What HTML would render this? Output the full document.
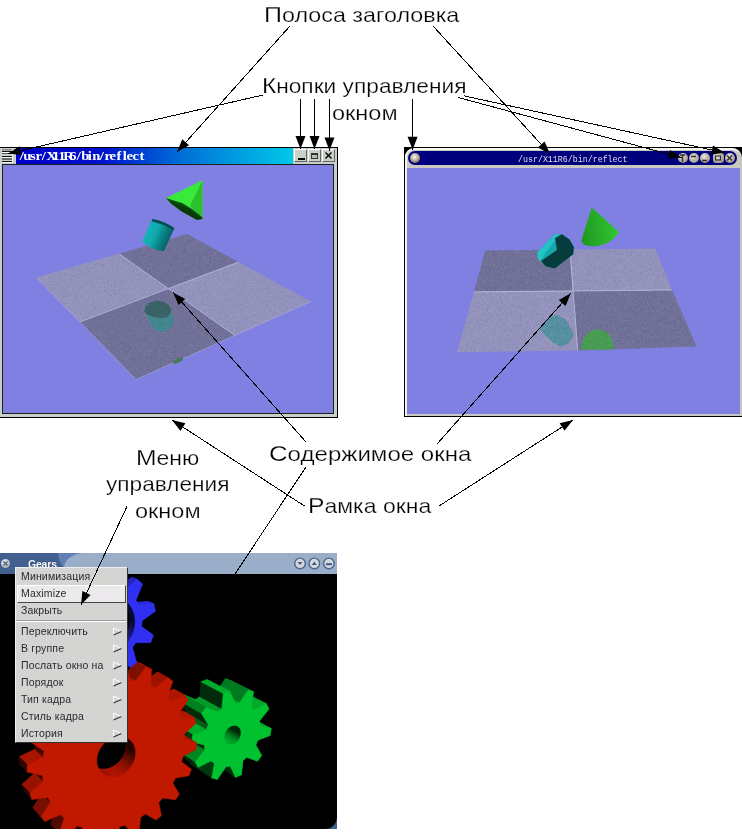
<!DOCTYPE html>
<html><head><meta charset="utf-8">
<style>
html,body{margin:0;padding:0;background:#fff}
body{width:742px;height:832px;overflow:hidden;position:relative}
.a{position:absolute}
.lbl{position:absolute;font-family:"Liberation Sans",sans-serif;font-size:21px;line-height:21px;color:#000;-webkit-text-stroke:0.25px #fff;white-space:nowrap;transform-origin:0 0}
.mi{position:absolute;left:6px;font-family:"Liberation Sans",sans-serif;font-size:10.5px;line-height:12px;color:#2a2a2a;white-space:nowrap;letter-spacing:0.15px}
.cap{font-size:22.5px}
.sub{position:absolute;left:98px;width:9px;height:9px}
</style></head><body>

<!-- ============ LEFT WINDOW ============ -->
<div class="a" style="left:0;top:147px;width:337px;height:269px;background:#c9d0c9;border:1px solid #000;border-left:none"></div>
<div class="a" style="left:16px;top:148px;width:277px;height:16px;background:linear-gradient(90deg,#0000c8 0%,#0010cc 30%,#0070d8 60%,#00c8e8 100%)"></div>
<div class="a" style="left:18.5px;top:148.5px;font-family:'Liberation Serif',serif;font-weight:bold;font-size:12px;line-height:14px;color:#fff;white-space:nowrap;letter-spacing:0"><span style="display:inline-block;width:5.74px;text-align:center;transform:scaleX(1.22)">/</span><span style="display:inline-block;width:5.74px;text-align:center;transform:scaleX(1.22)">u</span><span style="display:inline-block;width:5.74px;text-align:center;transform:scaleX(1.22)">s</span><span style="display:inline-block;width:5.74px;text-align:center;transform:scaleX(1.22)">r</span><span style="display:inline-block;width:5.74px;text-align:center;transform:scaleX(1.22)">/</span><span style="display:inline-block;width:5.74px;text-align:center;transform:scaleX(1.22)">X</span><span style="display:inline-block;width:5.74px;text-align:center;transform:scaleX(1.22)">1</span><span style="display:inline-block;width:5.74px;text-align:center;transform:scaleX(1.22)">1</span><span style="display:inline-block;width:5.74px;text-align:center;transform:scaleX(1.22)">R</span><span style="display:inline-block;width:5.74px;text-align:center;transform:scaleX(1.22)">6</span><span style="display:inline-block;width:5.74px;text-align:center;transform:scaleX(1.22)">/</span><span style="display:inline-block;width:5.74px;text-align:center;transform:scaleX(1.22)">b</span><span style="display:inline-block;width:5.74px;text-align:center;transform:scaleX(1.22)">i</span><span style="display:inline-block;width:5.74px;text-align:center;transform:scaleX(1.22)">n</span><span style="display:inline-block;width:5.74px;text-align:center;transform:scaleX(1.22)">/</span><span style="display:inline-block;width:5.74px;text-align:center;transform:scaleX(1.22)">r</span><span style="display:inline-block;width:5.74px;text-align:center;transform:scaleX(1.22)">e</span><span style="display:inline-block;width:5.74px;text-align:center;transform:scaleX(1.22)">f</span><span style="display:inline-block;width:5.74px;text-align:center;transform:scaleX(1.22)">l</span><span style="display:inline-block;width:5.74px;text-align:center;transform:scaleX(1.22)">e</span><span style="display:inline-block;width:5.74px;text-align:center;transform:scaleX(1.22)">c</span><span style="display:inline-block;width:5.74px;text-align:center;transform:scaleX(1.22)">t</span></div>
<!-- menu icon -->
<div class="a" style="left:0;top:148px;width:15px;height:16px;background:#c9d0c9"></div>
<div class="a" style="left:2px;top:149px;width:10px;height:1px;background:#8a8a8a"></div>
<div class="a" style="left:2px;top:150px;width:10px;height:1px;background:#aaa"></div>
<div class="a" style="left:2px;top:151px;width:10px;height:1px;background:#111"></div>
<div class="a" style="left:2px;top:152px;width:10px;height:1px;background:#fff"></div>
<div class="a" style="left:2px;top:153px;width:10px;height:1px;background:#555"></div>
<div class="a" style="left:2px;top:156px;width:10px;height:1px;background:#111"></div>
<div class="a" style="left:2px;top:157px;width:10px;height:1px;background:#f4f4f4"></div>
<div class="a" style="left:2px;top:158px;width:10px;height:2px;background:#6a6a6a"></div>
<div class="a" style="left:2px;top:161px;width:10px;height:1px;background:#111"></div>
<div class="a" style="left:2px;top:162px;width:11px;height:1px;background:#f4f4f4"></div>
<div class="a" style="left:12px;top:149px;width:1px;height:14px;background:#f4f4f4"></div>
<!-- buttons -->
<div class="a" style="left:294px;top:149px;width:11px;height:11px;background:#c9d0c9;border:1px solid;border-color:#fff #666 #666 #fff"></div>
<div class="a" style="left:298px;top:158px;width:6.5px;height:2px;background:#000"></div>
<div class="a" style="left:308px;top:149px;width:11px;height:11px;background:#c9d0c9;border:1px solid;border-color:#fff #666 #666 #fff"></div>
<div class="a" style="left:311px;top:153px;width:5px;height:3px;border:1px solid #333;border-top-width:2px;background:#b8bcb8"></div>
<div class="a" style="left:322px;top:149px;width:11px;height:11px;background:#c9d0c9;border:1px solid;border-color:#fff #666 #666 #fff"></div>
<svg class="a" style="left:322px;top:149px" width="13" height="13"><path d="M3.5 3.5 L9.5 9.5 M9.5 3.5 L3.5 9.5" stroke="#000" stroke-width="1.4"/></svg>
<!-- client -->
<div class="a" style="left:2px;top:164px;width:332px;height:250px;background:#1e201e"></div>
<div class="a" style="left:3px;top:165px;width:330px;height:248px;background:#8080e2;overflow:hidden">
<svg width="330" height="248" viewBox="3 165 330 248">
  <polygon points="36.3,277.5 118.9,253.7 168.3,288.6 79.8,322" fill="#9292bc"/>
  <polygon points="118.9,253.7 187.1,234.1 238.5,262.1 168.3,288.6" fill="#707098"/>
  <polygon points="168.3,288.6 238.5,262.1 310.9,301.6 234.8,335.5" fill="#9292bc"/>
  <polygon points="79.8,322 168.3,288.6 234.8,335.5 136,379.5" fill="#707098"/>
  <path d="M118.9 253.7 L234.8 335.5 M79.8 322 L238.5 262.1" stroke="#c0c0e4" stroke-width="1" opacity="0.75"/>
  <path d="M310.9 301.6 L136 379.5 L36.3 277.5" fill="none" stroke="#c0c0e4" stroke-width="0.8" opacity="0.5"/>
  <!-- reflection cylinder -->
  <path d="M144.4 311.6 C144 305 150 301 157.9 301 C164 301 169 304 171 309 L173.75 318.8 C175 326 168 331.8 160.8 331.8 C156 331.8 153 329 152 326.5 Z" fill="#3a8a8c" opacity="0.85"/>
  <path d="M144.4 311.6 C144 305 150 301 157.9 301 C164 301 169 304 171 309 C172 315 166 319 159 318 C152 317 146 315 144.4 311.6 Z" fill="#3a5e62" opacity="0.9"/>
  <ellipse cx="178" cy="360.7" rx="5.5" ry="2" transform="rotate(-25 178 360.7)" fill="#3c7a4a" opacity="0.9"/>
  <defs><filter id="nz" x="0" y="0" width="100%" height="100%" color-interpolation-filters="sRGB"><feTurbulence type="fractalNoise" baseFrequency="1.7" numOctaves="1" seed="7"/><feColorMatrix type="matrix" values="0.6 0.6 0.6 0 -0.4  0.6 0.6 0.6 0 -0.4  0.6 0.6 0.6 0 -0.4  0 0 0 0 1"/></filter>
  <clipPath id="fl1"><polygon points="36.3,277.5 187.1,234.1 310.9,301.6 136,379.5"/></clipPath></defs>
  <g clip-path="url(#fl1)" style="mix-blend-mode:overlay" opacity="0.18"><rect x="30" y="230" width="285" height="155" filter="url(#nz)"/></g>
  <!-- cylinder -->
  <defs><linearGradient id="cyl1" x1="145" y1="228" x2="171" y2="240" gradientUnits="userSpaceOnUse">
   <stop offset="0" stop-color="#12b6ba"/><stop offset="0.4" stop-color="#10aaae"/><stop offset="0.65" stop-color="#0b868a"/><stop offset="1" stop-color="#065a5e"/>
  </linearGradient></defs>
  <path d="M152.4 219.1 Q164 221 174.3 228.2 L164 251.3 Q151 250 142.1 241.6 Z" fill="url(#cyl1)"/>
  <path d="M152.4 219.1 Q164 221 174.3 228.2 L173.5 230 Q163 224 151.6 221.3 Z" fill="#074a4c"/>
  <!-- cone -->
  <path d="M202.4 180.3 L166.1 197.9 L171.2 204 L181 211 L196.7 219.7 L202.5 219.1 Z" fill="#38ea3a"/>
  <path d="M202.4 180.3 L190 206 L202.5 219.1 Z" fill="#2cc02e"/>
  <path d="M166.1 197.9 L172 200 L182 203 L192 209 L202 217 L202.5 219.1 L196.7 219.7 L181 211 L171.2 204 Z" fill="#0e4a10"/>
  <path d="M170 201 L181 211 L196.7 219.7 L202.5 219.1 L190 210 Z" fill="#0a3a0c"/>
</svg>
</div>

<!-- ============ RIGHT WINDOW ============ -->
<div class="a" style="left:404px;top:147px;width:338px;height:270px;background:#000"></div>
<div class="a" style="left:405px;top:148px;width:337px;height:268px;background:#c9c9c1;border-radius:9px 10px 0 0"></div>
<div class="a" style="left:405px;top:148px;width:337px;height:268px;border-radius:9px 10px 0 0;border-top:2px solid #f6f6f2;border-left:2px solid #f2f2ee;box-sizing:border-box"></div>
<div class="a" style="left:408px;top:151px;width:329px;height:14px;background:#00007c;border-radius:7px"></div>
<div class="a" style="left:518px;top:152px;font-family:'Liberation Mono',monospace;font-size:8.3px;line-height:12px;color:#e0e0e8;white-space:nowrap;transform:scaleY(1.2);transform-origin:0 0">/usr/X11R6/bin/reflect</div>
<div class="a" style="left:410px;top:153px;width:10px;height:10px;border-radius:50%;background:radial-gradient(circle at 45% 40%,#fff 0%,#d8d0c8 22%,#a08c74 62%,#5a4a38 100%)"></div>
<div class="a" style="left:677.5px;top:152.7px;width:10.5px;height:10.5px;border-radius:50%;background:radial-gradient(circle at 40% 35%,#e8e4dc 0%,#b0a898 60%,#706858 100%)"></div>
<div class="a" style="left:688.5px;top:152.7px;width:10.5px;height:10.5px;border-radius:50%;background:radial-gradient(circle at 40% 35%,#e8e4dc 0%,#b0a898 60%,#706858 100%)"></div>
<div class="a" style="left:699.5px;top:152.7px;width:10.5px;height:10.5px;border-radius:50%;background:radial-gradient(circle at 40% 35%,#e8e4dc 0%,#b0a898 60%,#706858 100%)"></div>
<div class="a" style="left:713px;top:152.7px;width:10.5px;height:10.5px;border-radius:3px;background:radial-gradient(circle at 40% 35%,#e8e4dc 0%,#b0a898 60%,#706858 100%)"></div>
<div class="a" style="left:724.5px;top:152.7px;width:10.5px;height:10.5px;border-radius:50%;background:radial-gradient(circle at 40% 35%,#e8e4dc 0%,#b0a898 60%,#706858 100%)"></div>
<svg class="a" style="left:676px;top:151px" width="62" height="14">
  <path d="M4 4 L9 4 M6.5 4 L6.5 11" stroke="#333" stroke-width="1.5"/>
  <path d="M15 5.5 L20 5.5" stroke="#333" stroke-width="1.5"/>
  <path d="M26 9.5 L31 9.5" stroke="#333" stroke-width="1.5"/>
  <rect x="39.5" y="5" width="5" height="4" fill="none" stroke="#333" stroke-width="1.2"/>
  <path d="M51 4.5 L56 9.5 M56 4.5 L51 9.5" stroke="#333" stroke-width="1.5"/>
</svg>
<div class="a" style="left:407px;top:168px;width:333px;height:246px;background:#8080e2;overflow:hidden">
<svg width="333" height="246" viewBox="407 168 333 246">
  <polygon points="485.3,250.4 570,249.6 572.8,291.1 474,291.9" fill="#707098"/>
  <polygon points="570,249.6 655.1,248.5 672,290 572.8,291.1" fill="#9292bc"/>
  <polygon points="474,291.9 572.8,291.1 577.7,350.4 457,352.3" fill="#9292bc"/>
  <polygon points="572.8,291.1 672,290 696.6,346.6 577.7,350.4" fill="#707098"/>
  <path d="M570 249.6 L577.7 350.4 M474 291.9 L672 290" stroke="#c4c4e4" stroke-width="1" opacity="0.8"/>
  <!-- reflections -->
  <path d="M540 329.6 L548 318 L557 314.5 L566 320 L574 335 L569 343 L560.8 346.6 L552 342 Z" fill="#3d8f94" opacity="0.7"/>
  <path d="M581.5 350 C581 336 590 329.6 597.5 329.6 C606 329.6 614 336 613.6 349.6 Z" fill="#3caa3c" opacity="0.75"/>
  <defs><filter id="nz2" x="0" y="0" width="100%" height="100%" color-interpolation-filters="sRGB"><feTurbulence type="fractalNoise" baseFrequency="1.7" numOctaves="1" seed="11"/><feColorMatrix type="matrix" values="0.6 0.6 0.6 0 -0.4  0.6 0.6 0.6 0 -0.4  0.6 0.6 0.6 0 -0.4  0 0 0 0 1"/></filter>
  <clipPath id="fl2"><polygon points="485.4,250.4 655.4,248.7 696.7,347.5 456.2,352.3"/></clipPath></defs>
  <g clip-path="url(#fl2)" style="mix-blend-mode:overlay" opacity="0.18"><rect x="450" y="245" width="250" height="110" filter="url(#nz2)"/></g>
  <!-- cylinder -->
  <path d="M537.6 252.1 L554.7 234.3 L562 234.3 L569.5 239.5 L573.9 246.9 L573.2 254.3 L554.7 268.4 L545.8 266.2 L537.6 257.3 Z" fill="#14a8aa"/>
  <path d="M537.6 252.1 L554.7 234.3 L560 234.3 L546 252 L540 262 L537.6 257.3 Z" fill="#22c4c6"/>
  <path d="M555 238 L562 234.3 L569.5 239.5 L573.9 246.9 L573.2 254.3 L554.7 268.4 L545.8 266.2 L541 261 L557 250 Z" fill="#063c3e"/>
  <!-- cone -->
  <defs><linearGradient id="cone2" x1="582" y1="230" x2="619" y2="225" gradientUnits="userSpaceOnUse">
   <stop offset="0" stop-color="#1f9a20"/><stop offset="0.35" stop-color="#26aa27"/><stop offset="0.7" stop-color="#2cba2d"/><stop offset="1" stop-color="#34c835"/>
  </linearGradient></defs>
  <path d="M591.7 207.6 L581.3 240.5 C582 245 588 246.6 594 246.3 C603 246 613 242 619.1 232.1 Z" fill="url(#cone2)"/>
</svg>
</div>

<!-- ============ GEARS WINDOW ============ -->
<div class="a" style="left:0;top:553px;width:337px;height:21px;background:#9aaec9"></div>
<div class="a" style="left:0;top:553px;width:70px;height:21px;background:#41608f;border-radius:0 0 30px 0"></div>
<div class="a" style="left:58px;top:553px;width:34px;height:21px;background:#6080b4;border-radius:0 0 0 40px;clip-path:polygon(0 0,100% 0,100% 100%,0 100%)"></div>
<div class="a" style="left:64px;top:553px;width:40px;height:30px;background:#9aaec9;border-radius:50% 0 0 0"></div>
<div class="a" style="left:1px;top:558.5px;width:9px;height:9px;border-radius:50%;background:radial-gradient(circle at 40% 35%,#eee 0%,#bbb 60%,#888 100%)"></div>
<svg class="a" style="left:1px;top:558.5px" width="9" height="9"><path d="M2.5 2.5 L6.5 6.5 M6.5 2.5 L2.5 6.5" stroke="#41608f" stroke-width="1.3"/></svg>
<div class="a" style="left:28px;top:557.5px;font-family:'Liberation Sans',sans-serif;font-weight:bold;font-size:10.5px;line-height:12px;color:#fff;letter-spacing:-0.2px;text-shadow:0 0 1px #203050">Gears</div>
<div class="a" style="left:320px;top:810px;width:17px;height:19px;background:#41608f"></div>
<div class="a" style="left:0;top:574px;width:337px;height:255px;background:#000;overflow:hidden;border-radius:0 0 12px 0"></div>
<svg class="a" style="left:0;top:0" width="742" height="832">
<defs><clipPath id="gc"><rect x="0" y="574" width="337" height="255"/></clipPath></defs>
<g clip-path="url(#gc)">
<path d="M271.3 728.6 L260.1 725.7 L237.3 713.3 L248.3 716.2 Z" fill="#00a92a" stroke="#00a92a" stroke-width="0.6"/>
<path d="M230.3 766.3 L235.5 777.5 L213.7 763.3 L208.5 752.3 Z" fill="#00290a" stroke="#00290a" stroke-width="0.6"/>
<path d="M266.3 703.6 L253.9 709.6 L231.1 697.7 L243.2 692.0 Z" fill="#00ab2b" stroke="#00ab2b" stroke-width="0.6"/>
<path d="M239.1 739.4 L239.6 738.5 L217.3 725.6 L216.9 726.4 Z" fill="#00701c" stroke="#00701c" stroke-width="0.6"/>
<path d="M238.5 740.2 L239.1 739.4 L216.9 726.4 L216.3 727.2 Z" fill="#007b1f" stroke="#007b1f" stroke-width="0.6"/>
<path d="M239.6 738.5 L240.0 737.6 L217.8 724.7 L217.3 725.6 Z" fill="#006419" stroke="#006419" stroke-width="0.6"/>
<path d="M237.9 741.0 L238.5 740.2 L216.3 727.2 L215.7 727.9 Z" fill="#008521" stroke="#008521" stroke-width="0.6"/>
<path d="M240.0 737.6 L240.4 736.7 L218.1 723.8 L217.8 724.7 Z" fill="#005816" stroke="#005816" stroke-width="0.6"/>
<path d="M237.3 741.7 L237.9 741.0 L215.7 727.9 L215.1 728.6 Z" fill="#008e24" stroke="#008e24" stroke-width="0.6"/>
<path d="M240.4 736.7 L240.7 735.8 L218.4 722.9 L218.1 723.8 Z" fill="#004b13" stroke="#004b13" stroke-width="0.6"/>
<path d="M236.6 742.4 L237.3 741.7 L215.1 728.6 L214.4 729.2 Z" fill="#009726" stroke="#009726" stroke-width="0.6"/>
<path d="M240.7 735.8 L240.9 734.8 L218.6 722.0 L218.4 722.9 Z" fill="#003e10" stroke="#003e10" stroke-width="0.6"/>
<path d="M235.8 743.0 L236.6 742.4 L214.4 729.2 L213.7 729.8 Z" fill="#009e27" stroke="#009e27" stroke-width="0.6"/>
<path d="M240.9 734.8 L241.0 733.9 L218.7 721.1 L218.6 722.0 Z" fill="#00310c" stroke="#00310c" stroke-width="0.6"/>
<path d="M235.0 743.5 L235.8 743.0 L213.7 729.8 L212.9 730.3 Z" fill="#00a429" stroke="#00a429" stroke-width="0.6"/>
<path d="M241.0 733.9 L241.1 733.0 L218.7 720.2 L218.7 721.1 Z" fill="#00290a" stroke="#00290a" stroke-width="0.6"/>
<path d="M234.2 743.9 L235.0 743.5 L212.9 730.3 L212.1 730.7 Z" fill="#00a92a" stroke="#00a92a" stroke-width="0.6"/>
<path d="M241.1 733.0 L241.0 732.1 L218.7 719.3 L218.7 720.2 Z" fill="#00290a" stroke="#00290a" stroke-width="0.6"/>
<path d="M233.4 744.3 L234.2 743.9 L212.1 730.7 L211.3 731.0 Z" fill="#00ad2b" stroke="#00ad2b" stroke-width="0.6"/>
<path d="M241.0 732.1 L240.9 731.2 L218.6 718.5 L218.7 719.3 Z" fill="#00290a" stroke="#00290a" stroke-width="0.6"/>
<path d="M232.6 744.5 L233.4 744.3 L211.3 731.0 L210.5 731.3 Z" fill="#00af2c" stroke="#00af2c" stroke-width="0.6"/>
<path d="M240.9 731.2 L240.7 730.3 L218.4 717.6 L218.6 718.5 Z" fill="#00290a" stroke="#00290a" stroke-width="0.6"/>
<path d="M231.7 744.7 L232.6 744.5 L210.5 731.3 L209.7 731.4 Z" fill="#00b02c" stroke="#00b02c" stroke-width="0.6"/>
<path d="M240.7 730.3 L240.4 729.5 L218.1 716.9 L218.4 717.6 Z" fill="#00290a" stroke="#00290a" stroke-width="0.6"/>
<path d="M230.9 744.8 L231.7 744.7 L209.7 731.4 L208.9 731.5 Z" fill="#00b02c" stroke="#00b02c" stroke-width="0.6"/>
<path d="M240.4 729.5 L240.1 728.8 L217.7 716.1 L218.1 716.9 Z" fill="#00290a" stroke="#00290a" stroke-width="0.6"/>
<path d="M230.1 744.8 L230.9 744.8 L208.9 731.5 L208.1 731.5 Z" fill="#00af2c" stroke="#00af2c" stroke-width="0.6"/>
<path d="M240.1 728.8 L239.7 728.1 L217.3 715.5 L217.7 716.1 Z" fill="#00290a" stroke="#00290a" stroke-width="0.6"/>
<path d="M229.3 744.7 L230.1 744.8 L208.1 731.5 L207.4 731.4 Z" fill="#00ac2b" stroke="#00ac2b" stroke-width="0.6"/>
<path d="M239.7 728.1 L239.2 727.5 L216.8 714.9 L217.3 715.5 Z" fill="#00290a" stroke="#00290a" stroke-width="0.6"/>
<path d="M228.6 744.5 L229.3 744.7 L207.4 731.4 L206.6 731.2 Z" fill="#00a82a" stroke="#00a82a" stroke-width="0.6"/>
<path d="M239.2 727.5 L238.6 726.9 L216.3 714.3 L216.8 714.9 Z" fill="#00290a" stroke="#00290a" stroke-width="0.6"/>
<path d="M214.3 763.5 L211.7 778.1 L190.4 763.6 L192.8 749.5 Z" fill="#00390e" stroke="#00390e" stroke-width="0.6"/>
<path d="M227.9 744.2 L228.6 744.5 L206.6 731.2 L205.9 730.9 Z" fill="#00a329" stroke="#00a329" stroke-width="0.6"/>
<path d="M238.6 726.9 L238.0 726.5 L215.7 713.9 L216.3 714.3 Z" fill="#00290a" stroke="#00290a" stroke-width="0.6"/>
<path d="M227.2 743.8 L227.9 744.2 L205.9 730.9 L205.3 730.6 Z" fill="#009c27" stroke="#009c27" stroke-width="0.6"/>
<path d="M238.0 726.5 L237.4 726.1 L215.0 713.5 L215.7 713.9 Z" fill="#00290a" stroke="#00290a" stroke-width="0.6"/>
<path d="M211.1 760.9 L214.3 763.5 L192.8 749.5 L189.7 747.0 Z" fill="#00290a" stroke="#00290a" stroke-width="0.6"/>
<path d="M253.7 691.9 L248.2 689.9 L225.3 678.6 L230.7 680.6 Z" fill="#00a62a" stroke="#00a62a" stroke-width="0.6"/>
<path d="M248.2 689.9 L239.4 702.9 L216.8 691.1 L225.3 678.6 Z" fill="#007b1f" stroke="#007b1f" stroke-width="0.6"/>
<path d="M239.4 702.9 L235.0 703.2 L212.5 691.3 L216.8 691.1 Z" fill="#00b02c" stroke="#00b02c" stroke-width="0.6"/>
<path d="M195.1 762.0 L198.1 767.4 L177.0 753.1 L174.0 747.8 Z" fill="#00290a" stroke="#00290a" stroke-width="0.6"/>
<path d="M204.9 749.6 L195.1 762.0 L174.0 747.8 L183.5 736.0 Z" fill="#008521" stroke="#008521" stroke-width="0.6"/>
<path d="M204.2 744.9 L204.9 749.6 L183.5 736.0 L182.8 731.4 Z" fill="#00290a" stroke="#00290a" stroke-width="0.6"/>
<path d="M221.8 708.7 L217.8 711.9 L195.8 699.6 L199.7 696.5 Z" fill="#009c27" stroke="#009c27" stroke-width="0.6"/>
<path d="M208.3 724.8 L206.2 729.8 L184.6 716.8 L186.6 712.0 Z" fill="#005c17" stroke="#005c17" stroke-width="0.6"/>
<path d="M223.3 693.5 L221.8 708.7 L199.7 696.5 L200.9 681.8 Z" fill="#002c0b" stroke="#002c0b" stroke-width="0.6"/>
<path d="M229.6 690.9 L223.3 693.5 L200.9 681.8 L207.1 679.4 Z" fill="#00ac2b" stroke="#00ac2b" stroke-width="0.6"/>
<path d="M206.2 729.8 L192.7 734.8 L171.4 721.5 L184.6 716.8 Z" fill="#00ae2b" stroke="#00ae2b" stroke-width="0.6"/>
<path d="M217.8 711.9 L206.0 707.3 L184.2 695.0 L195.8 699.6 Z" fill="#00a429" stroke="#00a429" stroke-width="0.6"/>
<path d="M201.4 713.5 L208.3 724.8 L186.6 712.0 L179.8 701.0 Z" fill="#00290a" stroke="#00290a" stroke-width="0.6"/>
<path d="M192.7 734.8 L191.7 742.1 L170.6 728.6 L171.4 721.5 Z" fill="#00320d" stroke="#00320d" stroke-width="0.6"/>
<path d="M206.0 707.3 L201.4 713.5 L179.8 701.0 L184.2 695.0 Z" fill="#008020" stroke="#008020" stroke-width="0.6"/>
<path d="M257.9 740.3 L270.2 735.5 L271.3 728.6 L260.1 725.7 L259.5 721.1 L269.0 709.1 L266.3 703.6 L253.9 709.6 L250.9 706.9 L253.7 691.9 L248.2 689.9 L239.4 702.9 L235.0 703.2 L229.6 690.9 L223.3 693.5 L221.8 708.7 L217.8 711.9 L206.0 707.3 L201.4 713.5 L208.3 724.8 L206.2 729.8 L192.7 734.8 L191.7 742.1 L204.2 744.9 L204.9 749.6 L195.1 762.0 L198.1 767.4 L211.1 760.9 L214.3 763.5 L211.7 778.1 L217.3 779.6 L226.0 766.7 L230.3 766.3 L235.5 777.5 L241.5 774.7 L243.0 760.6 L246.8 757.4 L257.5 761.3 L261.8 755.4 L255.9 745.0 Z M240.4 736.7 L240.7 735.8 L240.9 734.8 L241.0 733.9 L241.1 733.0 L241.0 732.1 L240.9 731.2 L240.7 730.3 L240.4 729.5 L240.1 728.8 L239.7 728.1 L239.2 727.5 L238.6 726.9 L238.0 726.5 L237.4 726.1 L236.7 725.8 L235.9 725.6 L235.1 725.5 L234.3 725.5 L233.5 725.5 L232.7 725.7 L231.8 725.9 L231.0 726.3 L230.2 726.7 L229.4 727.2 L228.6 727.8 L227.9 728.5 L227.2 729.2 L226.6 730.0 L226.0 730.8 L225.5 731.7 L225.1 732.6 L224.7 733.6 L224.5 734.5 L224.2 735.5 L224.1 736.4 L224.1 737.3 L224.1 738.3 L224.2 739.1 L224.4 740.0 L224.7 740.8 L225.1 741.5 L225.5 742.2 L226.0 742.8 L226.6 743.4 L227.2 743.8 L227.9 744.2 L228.6 744.5 L229.3 744.7 L230.1 744.8 L230.9 744.8 L231.7 744.7 L232.6 744.5 L233.4 744.3 L234.2 743.9 L235.0 743.5 L235.8 743.0 L236.6 742.4 L237.3 741.7 L237.9 741.0 L238.5 740.2 L239.1 739.4 L239.6 738.5 L240.0 737.6 Z" fill="#00c130" fill-rule="evenodd" stroke="#00c130" stroke-width="0.6"/>
<path d="M196.7 743.0 L184.4 739.6 L173.9 732.8 L186.0 736.2 Z" fill="#a71500" stroke="#a71500" stroke-width="0.6"/>
<path d="M125.2 825.0 L133.0 834.9 L123.5 826.2 L115.7 816.4 Z" fill="#290500" stroke="#290500" stroke-width="0.6"/>
<path d="M194.5 717.5 L180.8 718.5 L170.2 712.1 L183.7 711.1 Z" fill="#b01600" stroke="#b01600" stroke-width="0.6"/>
<path d="M103.6 829.6 L107.6 842.6 L98.5 833.6 L94.4 820.9 Z" fill="#290500" stroke="#290500" stroke-width="0.6"/>
<path d="M184.7 694.9 L170.9 700.6 L160.4 694.4 L174.0 688.9 Z" fill="#ac1500" stroke="#ac1500" stroke-width="0.6"/>
<path d="M131.6 765.7 L132.7 763.9 L122.9 756.5 L121.9 758.2 Z" fill="#720e00" stroke="#720e00" stroke-width="0.6"/>
<path d="M132.7 763.9 L133.6 762.1 L123.8 754.6 L122.9 756.5 Z" fill="#670d00" stroke="#670d00" stroke-width="0.6"/>
<path d="M130.4 767.5 L131.6 765.7 L121.9 758.2 L120.7 759.9 Z" fill="#7d1000" stroke="#7d1000" stroke-width="0.6"/>
<path d="M133.6 762.1 L134.4 760.1 L124.5 752.7 L123.8 754.6 Z" fill="#5a0b00" stroke="#5a0b00" stroke-width="0.6"/>
<path d="M129.0 769.1 L130.4 767.5 L120.7 759.9 L119.3 761.5 Z" fill="#871100" stroke="#871100" stroke-width="0.6"/>
<path d="M134.4 760.1 L135.0 758.2 L125.1 750.8 L124.5 752.7 Z" fill="#4e0a00" stroke="#4e0a00" stroke-width="0.6"/>
<path d="M127.6 770.6 L129.0 769.1 L119.3 761.5 L117.9 763.0 Z" fill="#901200" stroke="#901200" stroke-width="0.6"/>
<path d="M135.0 758.2 L135.4 756.2 L125.5 748.9 L125.1 750.8 Z" fill="#410800" stroke="#410800" stroke-width="0.6"/>
<path d="M126.0 772.0 L127.6 770.6 L117.9 763.0 L116.3 764.3 Z" fill="#981300" stroke="#981300" stroke-width="0.6"/>
<path d="M135.4 756.2 L135.6 754.2 L125.7 746.9 L125.5 748.9 Z" fill="#340600" stroke="#340600" stroke-width="0.6"/>
<path d="M124.3 773.2 L126.0 772.0 L116.3 764.3 L114.7 765.5 Z" fill="#9f1400" stroke="#9f1400" stroke-width="0.6"/>
<path d="M135.6 754.2 L135.7 752.3 L125.8 745.0 L125.7 746.9 Z" fill="#290500" stroke="#290500" stroke-width="0.6"/>
<path d="M122.6 774.3 L124.3 773.2 L114.7 765.5 L113.0 766.6 Z" fill="#a51500" stroke="#a51500" stroke-width="0.6"/>
<path d="M135.7 752.3 L135.5 750.4 L125.6 743.1 L125.8 745.0 Z" fill="#290500" stroke="#290500" stroke-width="0.6"/>
<path d="M120.8 775.2 L122.6 774.3 L113.0 766.6 L111.2 767.4 Z" fill="#aa1500" stroke="#aa1500" stroke-width="0.6"/>
<path d="M135.5 750.4 L135.2 748.5 L125.3 741.3 L125.6 743.1 Z" fill="#290500" stroke="#290500" stroke-width="0.6"/>
<path d="M118.9 775.9 L120.8 775.2 L111.2 767.4 L109.3 768.2 Z" fill="#ad1600" stroke="#ad1600" stroke-width="0.6"/>
<path d="M135.2 748.5 L134.7 746.7 L124.8 739.5 L125.3 741.3 Z" fill="#290500" stroke="#290500" stroke-width="0.6"/>
<path d="M117.0 776.5 L118.9 775.9 L109.3 768.2 L107.5 768.7 Z" fill="#af1600" stroke="#af1600" stroke-width="0.6"/>
<path d="M82.6 827.4 L82.2 842.2 L73.4 833.1 L73.7 818.5 Z" fill="#290500" stroke="#290500" stroke-width="0.6"/>
<path d="M134.7 746.7 L134.1 745.0 L124.2 737.9 L124.8 739.5 Z" fill="#290500" stroke="#290500" stroke-width="0.6"/>
<path d="M115.1 776.8 L117.0 776.5 L107.5 768.7 L105.6 769.0 Z" fill="#b01600" stroke="#b01600" stroke-width="0.6"/>
<path d="M134.1 745.0 L133.2 743.4 L123.3 736.3 L124.2 737.9 Z" fill="#290500" stroke="#290500" stroke-width="0.6"/>
<path d="M113.2 777.0 L115.1 776.8 L105.6 769.0 L103.8 769.2 Z" fill="#b01600" stroke="#b01600" stroke-width="0.6"/>
<path d="M133.2 743.4 L132.2 742.0 L122.3 734.9 L123.3 736.3 Z" fill="#290500" stroke="#290500" stroke-width="0.6"/>
<path d="M111.4 777.0 L113.2 777.0 L103.8 769.2 L101.9 769.2 Z" fill="#ae1600" stroke="#ae1600" stroke-width="0.6"/>
<path d="M132.2 742.0 L131.1 740.7 L121.2 733.6 L122.3 734.9 Z" fill="#290500" stroke="#290500" stroke-width="0.6"/>
<path d="M109.6 776.8 L111.4 777.0 L101.9 769.2 L100.1 769.0 Z" fill="#ab1500" stroke="#ab1500" stroke-width="0.6"/>
<path d="M131.1 740.7 L129.8 739.5 L119.9 732.4 L121.2 733.6 Z" fill="#290500" stroke="#290500" stroke-width="0.6"/>
<path d="M107.8 776.4 L109.6 776.8 L100.1 769.0 L98.4 768.6 Z" fill="#a71500" stroke="#a71500" stroke-width="0.6"/>
<path d="M106.1 775.8 L107.8 776.4 L98.4 768.6 L96.8 768.0 Z" fill="#a11400" stroke="#a11400" stroke-width="0.6"/>
<path d="M168.0 677.6 L155.4 687.6 L144.9 681.5 L157.4 671.8 Z" fill="#9b1300" stroke="#9b1300" stroke-width="0.6"/>
<path d="M104.6 775.0 L106.1 775.8 L96.8 768.0 L95.2 767.2 Z" fill="#9b1300" stroke="#9b1300" stroke-width="0.6"/>
<path d="M103.1 774.0 L104.6 775.0 L95.2 767.2 L93.7 766.2 Z" fill="#931200" stroke="#931200" stroke-width="0.6"/>
<path d="M155.4 687.6 L150.7 685.3 L140.4 679.3 L144.9 681.5 Z" fill="#9f1400" stroke="#9f1400" stroke-width="0.6"/>
<path d="M64.2 818.0 L59.2 833.4 L50.7 824.4 L55.6 809.2 Z" fill="#530a00" stroke="#530a00" stroke-width="0.6"/>
<path d="M151.5 669.2 L145.4 667.4 L135.1 661.7 L141.1 663.5 Z" fill="#a81500" stroke="#a81500" stroke-width="0.6"/>
<path d="M145.4 667.4 L135.4 681.0 L125.2 675.0 L135.1 661.7 Z" fill="#7f1000" stroke="#7f1000" stroke-width="0.6"/>
<path d="M135.4 681.0 L129.9 680.5 L119.8 674.5 L125.2 675.0 Z" fill="#ae1600" stroke="#ae1600" stroke-width="0.6"/>
<path d="M40.9 816.6 L44.9 821.5 L36.6 812.5 L32.7 807.7 Z" fill="#290500" stroke="#290500" stroke-width="0.6"/>
<path d="M50.5 802.2 L40.9 816.6 L32.7 807.7 L42.0 793.6 Z" fill="#790f00" stroke="#790f00" stroke-width="0.6"/>
<path d="M48.0 797.4 L50.5 802.2 L42.0 793.6 L39.5 788.8 Z" fill="#290500" stroke="#290500" stroke-width="0.6"/>
<path d="M125.8 665.4 L119.0 665.9 L109.0 660.1 L115.7 659.6 Z" fill="#b01600" stroke="#b01600" stroke-width="0.6"/>
<path d="M119.0 665.9 L112.8 681.9 L103.0 675.8 L109.0 660.1 Z" fill="#5a0b00" stroke="#5a0b00" stroke-width="0.6"/>
<path d="M112.8 681.9 L107.1 683.3 L97.3 677.2 L103.0 675.8 Z" fill="#af1600" stroke="#af1600" stroke-width="0.6"/>
<path d="M42.3 775.4 L43.1 781.3 L34.6 773.0 L33.9 767.3 Z" fill="#290500" stroke="#290500" stroke-width="0.6"/>
<path d="M43.1 781.3 L29.8 792.9 L21.6 784.4 L34.6 773.0 Z" fill="#971300" stroke="#971300" stroke-width="0.6"/>
<path d="M29.8 792.9 L31.8 799.4 L23.6 790.7 L21.6 784.4 Z" fill="#290500" stroke="#290500" stroke-width="0.6"/>
<path d="M90.0 690.5 L84.6 693.8 L75.2 687.3 L80.5 684.1 Z" fill="#a31400" stroke="#a31400" stroke-width="0.6"/>
<path d="M91.4 673.7 L90.0 690.5 L80.5 684.1 L81.8 667.6 Z" fill="#310600" stroke="#310600" stroke-width="0.6"/>
<path d="M98.3 670.9 L91.4 673.7 L81.8 667.6 L88.6 664.9 Z" fill="#ab1500" stroke="#ab1500" stroke-width="0.6"/>
<path d="M44.2 751.1 L43.0 757.3 L34.5 749.4 L35.7 743.4 Z" fill="#420800" stroke="#420800" stroke-width="0.6"/>
<path d="M69.5 706.1 L65.0 710.9 L56.0 704.0 L60.4 699.3 Z" fill="#8c1100" stroke="#8c1100" stroke-width="0.6"/>
<path d="M84.6 693.8 L71.7 685.4 L62.5 679.1 L75.2 687.3 Z" fill="#961300" stroke="#961300" stroke-width="0.6"/>
<path d="M43.0 757.3 L27.2 764.8 L19.0 756.7 L34.5 749.4 Z" fill="#aa1500" stroke="#aa1500" stroke-width="0.6"/>
<path d="M53.6 727.1 L50.6 732.9 L41.9 725.6 L44.8 719.9 Z" fill="#6a0d00" stroke="#6a0d00" stroke-width="0.6"/>
<path d="M27.2 764.8 L27.0 772.1 L18.8 763.9 L19.0 756.7 Z" fill="#2d0600" stroke="#2d0600" stroke-width="0.6"/>
<path d="M65.7 690.3 L69.5 706.1 L60.4 699.3 L56.6 683.9 Z" fill="#290500" stroke="#290500" stroke-width="0.6"/>
<path d="M65.0 710.9 L49.4 707.7 L40.6 700.8 L56.0 704.0 Z" fill="#aa1500" stroke="#aa1500" stroke-width="0.6"/>
<path d="M50.6 732.9 L34.0 735.2 L25.6 727.8 L41.9 725.6 Z" fill="#b01600" stroke="#b01600" stroke-width="0.6"/>
<path d="M71.7 685.4 L65.7 690.3 L56.6 683.9 L62.5 679.1 Z" fill="#991300" stroke="#991300" stroke-width="0.6"/>
<path d="M44.8 714.2 L53.6 727.1 L44.8 719.9 L36.2 707.2 Z" fill="#290500" stroke="#290500" stroke-width="0.6"/>
<path d="M34.0 735.2 L31.4 742.6 L23.1 734.9 L25.6 727.8 Z" fill="#570b00" stroke="#570b00" stroke-width="0.6"/>
<path d="M49.4 707.7 L44.8 714.2 L36.2 707.2 L40.6 700.8 Z" fill="#7c0f00" stroke="#7c0f00" stroke-width="0.6"/>
<path d="M184.1 734.1 L195.7 723.6 L194.5 717.5 L180.8 718.5 L178.9 713.7 L187.9 700.2 L184.7 694.9 L170.9 700.6 L167.5 696.8 L172.8 681.3 L168.0 677.6 L155.4 687.6 L150.7 685.3 L151.5 669.2 L145.4 667.4 L135.4 681.0 L129.9 680.5 L125.8 665.4 L119.0 665.9 L112.8 681.9 L107.1 683.3 L98.3 670.9 L91.4 673.7 L90.0 690.5 L84.6 693.8 L71.7 685.4 L65.7 690.3 L69.5 706.1 L65.0 710.9 L49.4 707.7 L44.8 714.2 L53.6 727.1 L50.6 732.9 L34.0 735.2 L31.4 742.6 L44.2 751.1 L43.0 757.3 L27.2 764.8 L27.0 772.1 L42.3 775.4 L43.1 781.3 L29.8 792.9 L31.8 799.4 L48.0 797.4 L50.5 802.2 L40.9 816.6 L44.9 821.5 L60.3 814.6 L64.2 818.0 L59.2 833.4 L64.6 836.4 L77.7 825.7 L82.6 827.4 L82.2 842.2 L88.4 843.1 L98.2 829.7 L103.6 829.6 L107.6 842.6 L114.1 841.4 L119.8 826.8 L125.2 825.0 L133.0 834.9 L139.1 831.8 L140.6 817.3 L145.4 814.0 L156.2 820.1 L161.4 815.5 L158.7 802.4 L162.7 797.9 L175.4 799.8 L179.3 794.1 L172.8 783.3 L175.5 778.1 L189.0 775.7 L191.4 769.2 L181.6 761.8 L182.9 756.2 L196.0 749.6 L196.7 743.0 L184.4 739.6 Z M135.5 750.4 L135.2 748.5 L134.7 746.7 L134.1 745.0 L133.2 743.4 L132.2 742.0 L131.1 740.7 L129.8 739.5 L128.3 738.5 L126.8 737.7 L125.1 737.0 L123.4 736.5 L121.6 736.3 L119.7 736.2 L117.8 736.3 L115.9 736.6 L113.9 737.2 L112.0 737.9 L110.2 738.8 L108.4 739.8 L106.6 741.1 L105.0 742.5 L103.5 744.0 L102.1 745.7 L100.8 747.5 L99.7 749.3 L98.8 751.2 L98.0 753.2 L97.4 755.3 L97.0 757.3 L96.8 759.3 L96.8 761.3 L96.9 763.3 L97.3 765.1 L97.8 766.9 L98.6 768.6 L99.5 770.2 L100.5 771.6 L101.7 772.9 L103.1 774.0 L104.6 775.0 L106.1 775.8 L107.8 776.4 L109.6 776.8 L111.4 777.0 L113.2 777.0 L115.1 776.8 L117.0 776.5 L118.9 775.9 L120.8 775.2 L122.6 774.3 L124.3 773.2 L126.0 772.0 L127.6 770.6 L129.0 769.1 L130.4 767.5 L131.6 765.7 L132.7 763.9 L133.6 762.1 L134.4 760.1 L135.0 758.2 L135.4 756.2 L135.6 754.2 L135.7 752.3 Z" fill="#c11800" fill-rule="evenodd" stroke="#c11800" stroke-width="0.6"/>
<path d="M119.5 657.9 L130.5 667.5 L125.4 664.6 L114.4 655.1 Z" fill="#0a0a33" stroke="#0a0a33" stroke-width="0.6"/>
<path d="M130.2 639.0 L131.6 636.5 L126.5 633.9 L125.1 636.4 Z" fill="#1c1c8a" stroke="#1c1c8a" stroke-width="0.6"/>
<path d="M128.6 641.4 L130.2 639.0 L125.1 636.4 L123.5 638.7 Z" fill="#1e1e97" stroke="#1e1e97" stroke-width="0.6"/>
<path d="M131.6 636.5 L132.8 633.9 L127.6 631.3 L126.5 633.9 Z" fill="#19197b" stroke="#19197b" stroke-width="0.6"/>
<path d="M126.9 643.6 L128.6 641.4 L123.5 638.7 L121.8 640.9 Z" fill="#2121a4" stroke="#2121a4" stroke-width="0.6"/>
<path d="M132.8 633.9 L133.8 631.2 L128.6 628.7 L127.6 631.3 Z" fill="#16166c" stroke="#16166c" stroke-width="0.6"/>
<path d="M124.9 645.6 L126.9 643.6 L121.8 640.9 L119.8 643.0 Z" fill="#2323b0" stroke="#2323b0" stroke-width="0.6"/>
<path d="M133.8 631.2 L134.5 628.4 L129.3 625.9 L128.6 628.7 Z" fill="#12125c" stroke="#12125c" stroke-width="0.6"/>
<path d="M122.8 647.5 L124.9 645.6 L119.8 643.0 L117.7 644.8 Z" fill="#2525bb" stroke="#2525bb" stroke-width="0.6"/>
<path d="M134.5 628.4 L135.0 625.6 L129.7 623.2 L129.3 625.9 Z" fill="#0f0f4b" stroke="#0f0f4b" stroke-width="0.6"/>
<path d="M120.6 649.1 L122.8 647.5 L117.7 644.8 L115.5 646.4 Z" fill="#2727c4" stroke="#2727c4" stroke-width="0.6"/>
<path d="M135.0 625.6 L135.2 622.8 L130.0 620.4 L129.7 623.2 Z" fill="#0c0c3b" stroke="#0c0c3b" stroke-width="0.6"/>
<path d="M118.2 650.6 L120.6 649.1 L115.5 646.4 L113.2 647.8 Z" fill="#2929cc" stroke="#2929cc" stroke-width="0.6"/>
<path d="M153.8 603.6 L138.6 604.8 L133.4 602.5 L148.4 601.3 Z" fill="#2c2cdc" stroke="#2c2cdc" stroke-width="0.6"/>
<path d="M135.2 622.8 L135.2 620.0 L129.9 617.6 L130.0 620.4 Z" fill="#0a0a33" stroke="#0a0a33" stroke-width="0.6"/>
<path d="M115.8 651.7 L118.2 650.6 L113.2 647.8 L110.7 649.0 Z" fill="#2a2ad2" stroke="#2a2ad2" stroke-width="0.6"/>
<path d="M135.2 620.0 L134.9 617.3 L129.7 614.9 L129.9 617.6 Z" fill="#0a0a33" stroke="#0a0a33" stroke-width="0.6"/>
<path d="M113.2 652.7 L115.8 651.7 L110.7 649.0 L108.2 649.9 Z" fill="#2b2bd7" stroke="#2b2bd7" stroke-width="0.6"/>
<path d="M134.9 617.3 L134.4 614.6 L129.1 612.2 L129.7 614.9 Z" fill="#0a0a33" stroke="#0a0a33" stroke-width="0.6"/>
<path d="M110.7 653.3 L113.2 652.7 L108.2 649.9 L105.7 650.5 Z" fill="#2c2cda" stroke="#2c2cda" stroke-width="0.6"/>
<path d="M134.4 614.6 L133.6 612.0 L128.4 609.6 L129.1 612.2 Z" fill="#0a0a33" stroke="#0a0a33" stroke-width="0.6"/>
<path d="M98.8 660.9 L101.9 676.8 L97.0 673.7 L93.9 658.1 Z" fill="#0a0a33" stroke="#0a0a33" stroke-width="0.6"/>
<path d="M108.1 653.7 L110.7 653.3 L105.7 650.5 L103.1 650.9 Z" fill="#2c2cdc" stroke="#2c2cdc" stroke-width="0.6"/>
<path d="M133.6 612.0 L132.6 609.5 L127.4 607.2 L128.4 609.6 Z" fill="#0a0a33" stroke="#0a0a33" stroke-width="0.6"/>
<path d="M105.5 653.8 L108.1 653.7 L103.1 650.9 L100.6 651.0 Z" fill="#2c2cdc" stroke="#2c2cdc" stroke-width="0.6"/>
<path d="M132.6 609.5 L131.4 607.2 L126.2 604.8 L127.4 607.2 Z" fill="#0a0a33" stroke="#0a0a33" stroke-width="0.6"/>
<path d="M102.9 653.7 L105.5 653.8 L100.6 651.0 L98.0 650.9 Z" fill="#2c2cdb" stroke="#2c2cdb" stroke-width="0.6"/>
<path d="M131.4 607.2 L129.9 605.0 L124.7 602.7 L126.2 604.8 Z" fill="#0a0a33" stroke="#0a0a33" stroke-width="0.6"/>
<path d="M100.4 653.3 L102.9 653.7 L98.0 650.9 L95.5 650.4 Z" fill="#2b2bd7" stroke="#2b2bd7" stroke-width="0.6"/>
<path d="M129.9 605.0 L128.3 603.0 L123.1 600.7 L124.7 602.7 Z" fill="#0a0a33" stroke="#0a0a33" stroke-width="0.6"/>
<path d="M97.9 652.5 L100.4 653.3 L95.5 650.4 L93.1 649.7 Z" fill="#2a2ad3" stroke="#2a2ad3" stroke-width="0.6"/>
<path d="M128.3 603.0 L126.4 601.2 L121.2 598.9 L123.1 600.7 Z" fill="#0a0a33" stroke="#0a0a33" stroke-width="0.6"/>
<path d="M95.6 651.6 L97.9 652.5 L93.1 649.7 L90.7 648.8 Z" fill="#2929cc" stroke="#2929cc" stroke-width="0.6"/>
<path d="M126.4 601.2 L124.4 599.6 L119.2 597.4 L121.2 598.9 Z" fill="#0a0a33" stroke="#0a0a33" stroke-width="0.6"/>
<path d="M93.4 650.3 L95.6 651.6 L90.7 648.8 L88.5 647.6 Z" fill="#2727c5" stroke="#2727c5" stroke-width="0.6"/>
<path d="M124.4 599.6 L122.2 598.3 L117.1 596.0 L119.2 597.4 Z" fill="#0a0a33" stroke="#0a0a33" stroke-width="0.6"/>
<path d="M137.0 579.1 L124.1 590.2 L118.9 588.0 L131.6 577.1 Z" fill="#2525bb" stroke="#2525bb" stroke-width="0.6"/>
<path d="M122.2 598.3 L119.9 597.2 L114.8 595.0 L117.1 596.0 Z" fill="#0a0a33" stroke="#0a0a33" stroke-width="0.6"/>
<path d="M74.8 666.5 L80.8 670.9 L76.1 667.8 L70.1 663.5 Z" fill="#0a0a33" stroke="#0a0a33" stroke-width="0.6"/>
<path d="M124.1 590.2 L119.2 588.4 L114.0 586.3 L118.9 588.0 Z" fill="#2a2ad2" stroke="#2a2ad2" stroke-width="0.6"/>
<path d="M81.4 650.2 L74.8 666.5 L70.1 663.5 L76.6 647.4 Z" fill="#171775" stroke="#171775" stroke-width="0.6"/>
<path d="M78.4 645.7 L81.4 650.2 L76.6 647.4 L73.6 642.9 Z" fill="#0a0a33" stroke="#0a0a33" stroke-width="0.6"/>
<path d="M116.1 571.5 L108.4 571.5 L103.3 569.5 L111.0 569.5 Z" fill="#2c2cdc" stroke="#2c2cdc" stroke-width="0.6"/>
<path d="M103.2 588.7 L97.9 590.6 L92.9 588.4 L98.1 586.5 Z" fill="#2b2bd6" stroke="#2b2bd6" stroke-width="0.6"/>
<path d="M108.4 571.5 L103.2 588.7 L98.1 586.5 L103.3 569.5 Z" fill="#141465" stroke="#141465" stroke-width="0.6"/>
<path d="M74.5 623.3 L74.2 629.3 L69.4 626.6 L69.7 620.8 Z" fill="#0b0b39" stroke="#0b0b39" stroke-width="0.6"/>
<path d="M74.2 629.3 L59.9 639.5 L55.3 636.7 L69.4 626.6 Z" fill="#2727c4" stroke="#2727c4" stroke-width="0.6"/>
<path d="M59.9 639.5 L62.0 647.3 L57.4 644.5 L55.3 636.7 Z" fill="#0a0a33" stroke="#0a0a33" stroke-width="0.6"/>
<path d="M84.0 601.4 L80.5 606.3 L75.7 603.9 L79.1 599.0 Z" fill="#1f1f9b" stroke="#1f1f9b" stroke-width="0.6"/>
<path d="M61.1 614.1 L74.5 623.3 L69.7 620.8 L56.4 611.6 Z" fill="#0a0a33" stroke="#0a0a33" stroke-width="0.6"/>
<path d="M79.1 584.7 L84.0 601.4 L79.1 599.0 L74.2 582.6 Z" fill="#0a0a33" stroke="#0a0a33" stroke-width="0.6"/>
<path d="M80.5 606.3 L63.9 605.8 L59.2 603.4 L75.7 603.9 Z" fill="#2c2cdc" stroke="#2c2cdc" stroke-width="0.6"/>
<path d="M85.8 579.6 L79.1 584.7 L74.2 582.6 L80.9 577.5 Z" fill="#2626c0" stroke="#2626c0" stroke-width="0.6"/>
<path d="M63.9 605.8 L61.1 614.1 L56.4 611.6 L59.2 603.4 Z" fill="#16166d" stroke="#16166d" stroke-width="0.6"/>
<path d="M135.8 642.7 L150.7 642.7 L153.4 635.1 L141.7 626.5 L142.1 620.8 L155.4 611.2 L153.8 603.6 L138.6 604.8 L136.0 600.2 L142.6 584.0 L137.0 579.1 L124.1 590.2 L119.2 588.4 L116.1 571.5 L108.4 571.5 L103.2 588.7 L97.9 590.6 L85.8 579.6 L79.1 584.7 L84.0 601.4 L80.5 606.3 L63.9 605.8 L61.1 614.1 L74.5 623.3 L74.2 629.3 L59.9 639.5 L62.0 647.3 L78.4 645.7 L81.4 650.2 L74.8 666.5 L80.8 670.9 L93.8 659.5 L98.8 660.9 L101.9 676.8 L109.3 676.2 L114.4 660.0 L119.5 657.9 L130.5 667.5 L136.7 662.5 L132.5 647.4 Z M130.2 639.0 L131.6 636.5 L132.8 633.9 L133.8 631.2 L134.5 628.4 L135.0 625.6 L135.2 622.8 L135.2 620.0 L134.9 617.3 L134.4 614.6 L133.6 612.0 L132.6 609.5 L131.4 607.2 L129.9 605.0 L128.3 603.0 L126.4 601.2 L124.4 599.6 L122.2 598.3 L119.9 597.2 L117.5 596.4 L114.9 595.8 L112.4 595.6 L109.7 595.6 L107.1 595.9 L104.4 596.5 L101.8 597.4 L99.2 598.5 L96.8 599.9 L94.4 601.6 L92.2 603.5 L90.2 605.6 L88.3 607.9 L86.6 610.3 L85.2 612.9 L84.0 615.7 L83.0 618.5 L82.3 621.4 L81.9 624.3 L81.7 627.2 L81.8 630.1 L82.1 632.9 L82.7 635.6 L83.6 638.3 L84.7 640.7 L86.0 643.1 L87.6 645.2 L89.3 647.2 L91.3 648.9 L93.4 650.3 L95.6 651.6 L97.9 652.5 L100.4 653.3 L102.9 653.7 L105.5 653.8 L108.1 653.7 L110.7 653.3 L113.2 652.7 L115.8 651.7 L118.2 650.6 L120.6 649.1 L122.8 647.5 L124.9 645.6 L126.9 643.6 L128.6 641.4 Z" fill="#3030f2" fill-rule="evenodd" stroke="#3030f2" stroke-width="0.6"/>
</g>
</svg>
<svg class="a" style="left:293px;top:557px" width="44" height="13">
  <circle cx="7" cy="6.4" r="5.3" fill="#d8d8d8" stroke="#4a6590" stroke-width="1.4"/>
  <circle cx="21.3" cy="6.4" r="5.3" fill="#d8d8d8" stroke="#4a6590" stroke-width="1.4"/>
  <circle cx="35.9" cy="6.4" r="5.3" fill="#d8d8d8" stroke="#4a6590" stroke-width="1.4"/>
  <path d="M4.5 5 L9.5 5 L7 8 Z" fill="#3a5a8a"/>
  <path d="M18.8 8 L23.8 8 L21.3 4.5 Z" fill="#3a5a8a"/>
  <rect x="33" y="6.2" width="6" height="2" fill="#3a5a8a"/>
</svg>

<!-- menu -->
<div class="a" style="left:15px;top:567px;width:111px;height:174px;background:#d4d5d2;border:1px solid;border-color:#eee #333 #333 #eee"></div>
<div class="a" style="left:17px;top:585px;width:107px;height:16px;background:#ebe9ec;border:1px solid;border-color:#fff #444 #444 #fff"></div>
<div class="a" style="left:16px;top:620px;width:110px;height:1px;background:#999"></div>
<div class="a" style="left:16px;top:621px;width:110px;height:1px;background:#fff"></div>
<div class="a" style="left:15px;top:567px;width:112px;height:176px">
  <div class="mi" style="top:3px">Минимизация</div>
  <div class="mi" style="top:20px">Maximize</div>
  <div class="mi" style="top:37px">Закрыть</div>
  <div class="mi" style="top:58px">Переключить</div>
  <div class="mi" style="top:75px">В группе</div>
  <div class="mi" style="top:92px">Послать окно на</div>
  <div class="mi" style="top:109px">Порядок</div>
  <div class="mi" style="top:126px">Тип кадра</div>
  <div class="mi" style="top:143px">Стиль кадра</div>
  <div class="mi" style="top:160px">История</div>
  <svg class="sub" style="top:60px" width="9" height="9"><path d="M0.5 8 L0.5 1 L8.5 4.5" fill="none" stroke="#fff" stroke-width="1"/><path d="M0.5 8 L8.5 4.5" stroke="#333" stroke-width="1.1"/></svg>
  <svg class="sub" style="top:77px" width="9" height="9"><path d="M0.5 8 L0.5 1 L8.5 4.5" fill="none" stroke="#fff" stroke-width="1"/><path d="M0.5 8 L8.5 4.5" stroke="#333" stroke-width="1.1"/></svg>
  <svg class="sub" style="top:94px" width="9" height="9"><path d="M0.5 8 L0.5 1 L8.5 4.5" fill="none" stroke="#fff" stroke-width="1"/><path d="M0.5 8 L8.5 4.5" stroke="#333" stroke-width="1.1"/></svg>
  <svg class="sub" style="top:111px" width="9" height="9"><path d="M0.5 8 L0.5 1 L8.5 4.5" fill="none" stroke="#fff" stroke-width="1"/><path d="M0.5 8 L8.5 4.5" stroke="#333" stroke-width="1.1"/></svg>
  <svg class="sub" style="top:128px" width="9" height="9"><path d="M0.5 8 L0.5 1 L8.5 4.5" fill="none" stroke="#fff" stroke-width="1"/><path d="M0.5 8 L8.5 4.5" stroke="#333" stroke-width="1.1"/></svg>
  <svg class="sub" style="top:145px" width="9" height="9"><path d="M0.5 8 L0.5 1 L8.5 4.5" fill="none" stroke="#fff" stroke-width="1"/><path d="M0.5 8 L8.5 4.5" stroke="#333" stroke-width="1.1"/></svg>
  <svg class="sub" style="top:162px" width="9" height="9"><path d="M0.5 8 L0.5 1 L8.5 4.5" fill="none" stroke="#fff" stroke-width="1"/><path d="M0.5 8 L8.5 4.5" stroke="#333" stroke-width="1.1"/></svg>
</div>

<!-- ============ LABELS ============ -->
<div class="lbl" style="left:263.5px;top:4px;transform:scaleX(1.11)"><span class="cap">П</span>олоса заголовка</div>
<div class="lbl" style="left:262px;top:75px;transform:scaleX(1.082)"><span class="cap">К</span>нопки управления</div>
<div class="lbl" style="left:332px;top:102px;transform:scaleX(1.12)">окном</div>
<div class="lbl" style="left:269px;top:443px;transform:scaleX(1.146)"><span class="cap">С</span>одержимое окна</div>
<div class="lbl" style="left:308px;top:495px;transform:scaleX(1.097)"><span class="cap">Р</span>амка окна</div>
<div class="lbl" style="left:135.5px;top:447px;transform:scaleX(1.096)"><span class="cap">М</span>еню</div>
<div class="lbl" style="left:106px;top:473px;transform:scaleX(1.078)">управления</div>
<div class="lbl" style="left:135px;top:500px;transform:scaleX(1.12)">окном</div>

<!-- ============ LINES / ARROWS ============ -->
<svg class="a" style="left:0;top:0" width="742" height="832">
<g stroke="#000" stroke-width="1" shape-rendering="crispEdges">
<line x1="263" y1="95" x2="8" y2="153.5"/>
<line x1="290" y1="26" x2="177" y2="152"/>
<line x1="300.5" y1="99" x2="300.5" y2="149"/>
<line x1="314.5" y1="99" x2="314.5" y2="149"/>
<line x1="329.5" y1="99" x2="329.5" y2="150.5"/>
<line x1="412.6" y1="99" x2="412.6" y2="149.7"/>
<line x1="433" y1="26" x2="550" y2="154"/>
<line x1="457.8" y1="97.4" x2="681.5" y2="157.6"/>
<line x1="463.7" y1="95.8" x2="724.7" y2="152.8"/>
<line x1="306" y1="442" x2="173.2" y2="292.4"/>
<line x1="437" y1="444" x2="570.8" y2="293.2"/>
<line x1="304.5" y1="506" x2="172" y2="420"/>
<line x1="439" y1="506" x2="573" y2="420"/>
<line x1="127.3" y1="505.7" x2="81" y2="604.8"/>
<line x1="306" y1="467" x2="235" y2="574"/>
</g>
<g fill="#000">
<polygon points="8.0,153.5 19.7,146.2 21.7,155.0"/>
<polygon points="177.0,152.0 182.3,139.3 189.0,145.3"/>
<polygon points="300.5,149.0 295.5,136.0 305.5,136.0"/>
<polygon points="314.5,149.0 309.5,136.0 319.5,136.0"/>
<polygon points="329.5,150.5 324.5,137.5 334.5,137.5"/>
<polygon points="412.6,149.7 407.6,136.7 417.6,136.7"/>
<polygon points="550.0,154.0 537.9,147.4 544.6,141.4"/>
<polygon points="681.5,157.6 667.8,158.6 670.1,149.9"/>
<polygon points="724.7,152.8 711.0,154.4 713.0,145.6"/>
<polygon points="173.2,292.4 185.2,299.1 178.5,305.1"/>
<polygon points="570.8,293.2 565.5,305.9 558.8,299.9"/>
<polygon points="172.0,420.0 185.4,423.3 180.5,430.9"/>
<polygon points="573.0,420.0 564.5,430.8 559.6,423.2"/>
<polygon points="81.0,604.8 82.4,591.1 90.6,594.9"/>
</g>
</svg>
</body></html>
